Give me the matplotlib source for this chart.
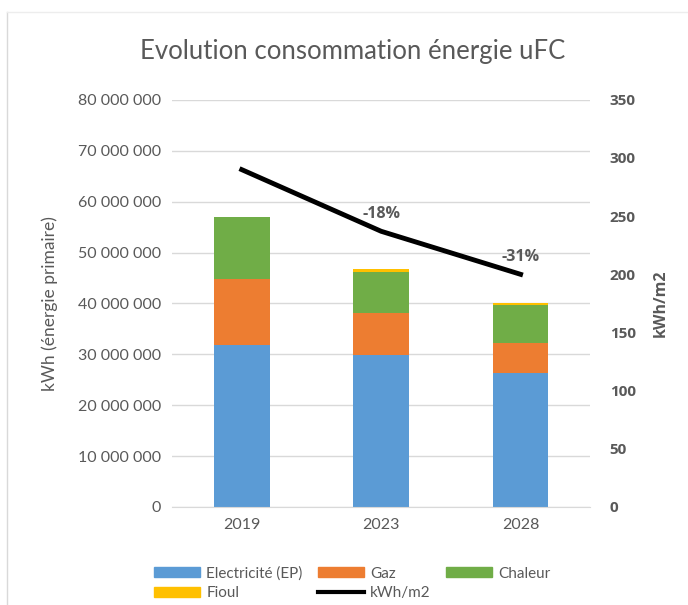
import matplotlib.pyplot as plt
from matplotlib.lines import Line2D
from matplotlib.patches import Patch

plt.rcParams['font.family'] = ['Lato', 'DejaVu Sans']
gras = ['Open Sans', 'DejaVu Sans']

# données
annees = ['2019', '2023', '2028']
electricite = [31.8e6, 29.9e6, 26.3e6]
gaz = [13.0e6, 8.2e6, 5.9e6]
chaleur = [12.2e6, 8.1e6, 7.5e6]
fioul = [0.0, 0.6e6, 0.4e6]
kwh_m2 = [290, 237, 200]
evol = ['', '-18%', '-31%']

c_elec, c_gaz, c_chal, c_fioul = '#5B9BD5', '#ED7D31', '#70AD47', '#FFC000'
gris = '#595959'

fig = plt.figure(figsize=(6.88, 6.05), dpi=100)
ax = fig.add_axes([0.25, 0.162, 0.608, 0.673])

x = range(len(annees))
w = 0.40
b1 = [e + g for e, g in zip(electricite, gaz)]
b2 = [a + c for a, c in zip(b1, chaleur)]
ax.bar(x, electricite, w, color=c_elec, zorder=2)
ax.bar(x, gaz, w, bottom=electricite, color=c_gaz, zorder=2)
ax.bar(x, chaleur, w, bottom=b1, color=c_chal, zorder=2)
ax.bar(x, fioul, w, bottom=b2, color=c_fioul, zorder=2)

ax.set_ylim(0, 80e6)
ax.set_yticks([i * 10e6 for i in range(9)],
              [f'{i * 10:d} 000 000' if i else '0' for i in range(9)])
ax.set_xlim(-0.5, 2.5)
ax.set_xticks(list(x), annees)
ax.grid(axis='y', color='#D9D9D9', linewidth=1, zorder=0)
for s in ['top', 'right', 'left']:
    ax.spines[s].set_visible(False)
ax.spines['bottom'].set_color('#D9D9D9')
ax.tick_params(length=0, colors=gris, labelsize=11.5, pad=8)
ax.set_ylabel('kWh (énergie primaire)', color=gris, fontsize=12.5, labelpad=14)

ax2 = ax.twinx()
ax2.plot(list(x), kwh_m2, color='black', linewidth=3.5, zorder=3)
ax2.set_ylim(0, 350)
ax2.set_yticks(list(range(0, 351, 50)), [str(v) for v in range(0, 351, 50)],
               fontweight='bold', family=gras)
for s in ax2.spines.values():
    s.set_visible(False)
ax2.tick_params(length=0, colors=gris, labelsize=11, pad=14)
ax2.set_ylabel('kWh/m2', color=gris, fontsize=11.5, fontweight='bold',
               family=gras, labelpad=12)
for xi, v, lab in zip(x, kwh_m2, evol):
    if lab:
        ax2.text(xi, v + 8, lab, ha='center', va='bottom', fontsize=11.5,
                 fontweight='bold', family=gras, color=gris)

fig.text(0.512, 0.915, 'Evolution consommation énergie uFC', ha='center',
         va='center', fontsize=18.5, color=gris)

handles = [Patch(color=c_elec), Patch(color=c_fioul), Patch(color=c_gaz),
           Line2D([], [], color='black', linewidth=3), Patch(color=c_chal)]
labels = ['Electricité (EP)', 'Fioul', 'Gaz', 'kWh/m2', 'Chaleur']
fig.legend(handles, labels, ncol=3, loc='center', bbox_to_anchor=(0.512, 0.036),
           frameon=False, fontsize=11, labelcolor=gris, handlelength=3.0,
           handleheight=0.6, columnspacing=1.0, handletextpad=0.4,
           labelspacing=0.35)

# cadre du graphique
fig.add_artist(Line2D([0.0102, 0.0102], [0, 0.98], color='#D9D9D9', linewidth=1))
fig.add_artist(Line2D([0.0102, 1], [0.98, 0.98], color='#EDEDED', linewidth=1))

fig.savefig('out.png', dpi=100)
